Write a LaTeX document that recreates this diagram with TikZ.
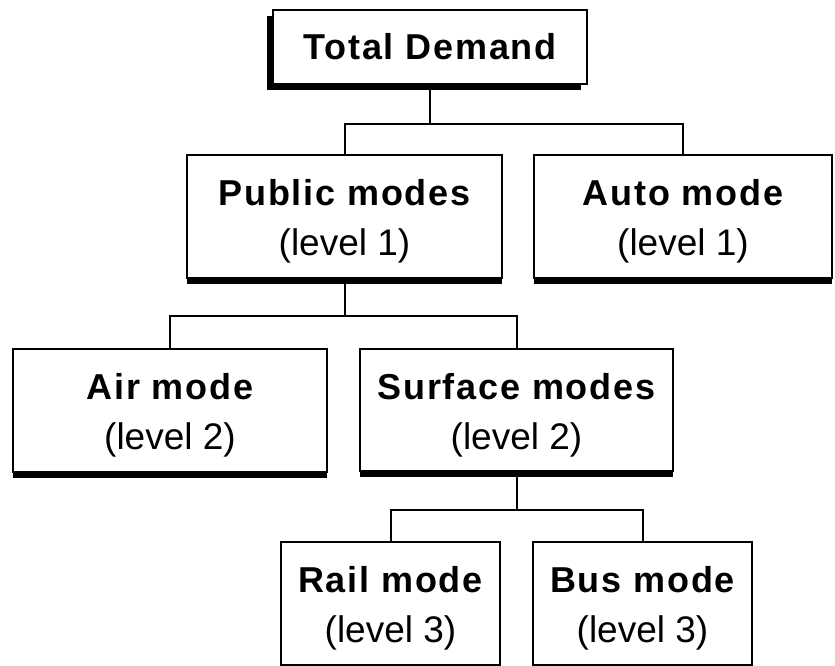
\documentclass[tikz,border=0pt]{standalone}
\usepackage{fontspec}
\setmainfont{Liberation Sans}
\newfontfamily\headfont[LetterSpace=5]{Liberation Sans}
\usetikzlibrary{shadows}
\tikzstyle{box}=[draw,fill=white,rectangle,line width=2pt,inner sep=0pt,align=center]
\tikzstyle{shade}=[drop shadow={shadow xshift=0pt,shadow yshift=-6pt,fill=black,opacity=1}]
\tikzstyle{every node}=[font=\fontsize{37}{50}\selectfont]
\newcommand{\modetext}[2]{{\headfont\bfseries\fontsize{36}{50}\selectfont\rule{0pt}{36pt}#1}\\(level #2)}

\begin{document}
\begin{tikzpicture}[x=1pt,y=-1pt,line width=2pt]
            \useasboundingbox (0,0) rectangle (835,666);
            \node[box, minimum width=314, minimum height=74,
                  drop shadow={shadow xshift=-6pt,shadow yshift=-6pt,fill=black,opacity=1}]
                  (total) at (430,47) {\headfont\bfseries\fontsize{36}{50}\selectfont Total Demand};
            \node[box, shade, minimum width=315, minimum height=123] (public) at (344.5,216.5) {\modetext{Public modes}{1}};
            \node[box, shade, minimum width=298, minimum height=123] (auto) at (683,216.5) {\modetext{Auto mode}{1}};
            \node[box, shade, minimum width=314, minimum height=123] (air) at (170,410.5) {\modetext{Air mode}{2}};
            \node[box, shade, minimum width=313, minimum height=122] (surface) at (516.5,410) {\modetext{Surface modes}{2}};
            \node[box, minimum width=219, minimum height=123] (rail) at (390.5,603.5) {\modetext{Rail mode}{3}};
            \node[box, minimum width=219, minimum height=123] (bus) at (642.5,603.5) {\modetext{Bus mode}{3}};
            \coordinate (bar1) at (430,124);
            \coordinate (bar2) at (344.5,316);
            \coordinate (bar3) at (516.5,510);
            \draw (total) -- (bar1);
            \draw (public.north) |- (bar1) -| (auto.north);
            \draw (public) -- (bar2);
            \draw (air.north) |- (bar2) -| (surface.north);
            \draw (surface) -- (bar3);
            \draw (rail.north) |- (bar3) -| (bus.north);
        \end{tikzpicture}
\end{document}
